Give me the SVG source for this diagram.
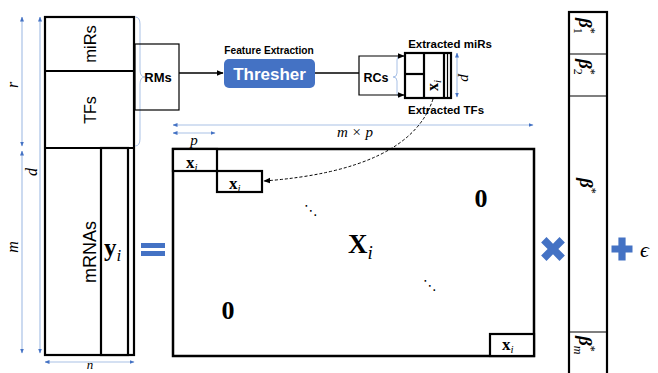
<svg xmlns="http://www.w3.org/2000/svg" width="658" height="373" viewBox="0 0 658 373">
<defs>
  <marker id="ab" viewBox="0 0 10 10" refX="9" refY="5" markerWidth="5" markerHeight="5" orient="auto-start-reverse" markerUnits="userSpaceOnUse">
    <path d="M0,1 L10,5 L0,9 z" fill="#4472c4"/>
  </marker>
  <marker id="ak" viewBox="0 0 10 10" refX="9" refY="5" markerWidth="7" markerHeight="7" orient="auto" markerUnits="userSpaceOnUse">
    <path d="M0,1 L10,5 L0,9 z" fill="#000"/>
  </marker>
  <style>
    .thick{fill:#fff;stroke:#000;stroke-width:2.2}
    .open{fill:none;stroke:#000;stroke-width:2.5}
    .thin{fill:none;stroke:#000;stroke-width:1.2}
    .dim{stroke:#a9c1e6;stroke-width:1.2;fill:none;marker-start:url(#ab);marker-end:url(#ab)}
    .brace{stroke:#a9c1e6;stroke-width:1;fill:none}
    .sans{font-family:"Liberation Sans",Arial,sans-serif;fill:#000}
    .b{font-weight:bold}
    .serif{font-family:"Liberation Serif","Times New Roman",serif;fill:#000}
    .it{font-style:italic}
    .op{fill:#4472c4}
  </style>
</defs>
<rect width="658" height="373" fill="#fff"/>

<!-- dimension arrows -->
<g id="dimensions">
  <line class="dim" x1="22" y1="17" x2="22" y2="146"/>
  <line class="dim" x1="22" y1="151" x2="22" y2="353"/>
  <line class="dim" x1="40" y1="17" x2="40" y2="353"/>
  <line class="dim" x1="45" y1="362" x2="134" y2="362"/>
  <line class="dim" x1="173" y1="125" x2="533" y2="125"/>
  <line class="dim" x1="173" y1="133" x2="215" y2="133"/>
  <line class="dim" x1="457" y1="53" x2="457" y2="97"/>
  <text class="serif it" font-size="16" text-anchor="middle" transform="translate(18,85) rotate(-90)">r</text>
  <text class="serif it" font-size="16" text-anchor="middle" transform="translate(37,172) rotate(-90)">d</text>
  <text class="serif it" font-size="16" text-anchor="middle" transform="translate(18,247) rotate(-90)">m</text>
  <text class="serif it" font-size="13" text-anchor="middle" x="90" y="369">n</text>
  <text class="serif it" font-size="15" text-anchor="middle" x="194" y="145">p</text>
  <text class="serif it" font-size="15" text-anchor="middle" x="355" y="137">m × p</text>
  <text class="serif it" font-size="15" text-anchor="middle" transform="translate(461,78) rotate(90)">p</text>
</g>

<!-- left data matrix -->
<g id="data-matrix">
  <rect class="thick" x="45" y="17" width="89" height="338"/>
  <line class="thick" x1="45" y1="71" x2="134" y2="71"/>
  <line class="thick" x1="45" y1="148" x2="134" y2="148"/>
  <rect class="thick" x="101" y="148" width="27" height="207"/>
  <text class="sans" font-size="16.5" text-anchor="middle" dominant-baseline="central" transform="translate(90,44) rotate(-90)">miRs</text>
  <text class="sans" font-size="16" text-anchor="middle" dominant-baseline="central" transform="translate(90,110) rotate(-90)">TFs</text>
  <text class="sans" font-size="18" text-anchor="middle" dominant-baseline="central" transform="translate(90,252) rotate(-90)">mRNAs</text>
  <text class="serif b" font-size="25" x="104" y="256">y<tspan class="it" font-weight="normal" font-size="17" dy="5">i</tspan></text>
  <path class="brace" d="M135,17 Q140,17 140,24 L140,70 Q140,77 145,77 Q140,77 140,84 L140,139 Q140,146 135,146"/>
</g>

<!-- RMs -->
<g id="rms">
  <rect class="thin" x="135" y="44" width="44" height="66"/>
  <text class="sans b" font-size="13" text-anchor="middle" x="158" y="82">RMs</text>
</g>

<!-- Thresher -->
<g id="thresher">
  <text class="sans b" font-size="10.2" text-anchor="middle" x="269" y="54">Feature Extraction</text>
  <rect x="224" y="59" width="91" height="29" rx="5" fill="#4472c4"/>
  <text class="sans b" font-size="17" text-anchor="middle" x="269.5" y="80" style="fill:#fff">Thresher</text>
</g>

<!-- RCs -->
<g id="rcs">
  <text class="sans b" font-size="12.5" text-anchor="middle" x="376" y="82">RCs</text>
  <path class="brace" d="M400,56 Q397,56 397,60 L397,73 Q397,77 393,77 Q397,77 397,81 L397,93 Q397,97 400,97"/>
</g>

<!-- extracted block -->
<g id="extracted">
  <text class="sans b" font-size="11.5" text-anchor="middle" x="450" y="48">Extracted miRs</text>
  <rect class="thick" x="405" y="53" width="46" height="45" stroke-width="2.5"/>
  <line class="thick" x1="424" y1="53" x2="424" y2="98"/>
  <line class="thick" x1="405" y1="74" x2="424" y2="74"/>
  <line class="thick" x1="444" y1="53" x2="444" y2="98"/>
  <line class="thin" x1="447.5" y1="53" x2="447.5" y2="98"/>
  <text class="serif b" font-size="16" transform="translate(438,91) rotate(-90)">x<tspan class="it" font-weight="normal" font-size="11" dy="3">i</tspan></text>
  <text class="sans b" font-size="11.5" text-anchor="middle" x="446" y="114">Extracted TFs</text>
</g>

<!-- block-diagonal matrix -->
<g id="block-matrix">
  <rect class="open" x="173" y="149" width="361" height="207"/>
  <rect class="thick" x="173" y="149" width="44" height="22"/>
  <rect class="thick" x="217" y="171" width="45" height="21"/>
  <rect class="thick" x="490" y="334" width="44" height="22"/>
  <text class="serif b" font-size="17" x="186" y="168">x<tspan class="it" font-weight="normal" font-size="11" dy="3">i</tspan></text>
  <text class="serif b" font-size="17" x="229" y="189">x<tspan class="it" font-weight="normal" font-size="11" dy="3">i</tspan></text>
  <text class="serif b" font-size="17" x="502" y="350">x<tspan class="it" font-weight="normal" font-size="11" dy="3">i</tspan></text>
  <text class="serif b" font-size="27" x="348" y="253">X<tspan class="it" font-weight="normal" font-size="19" dy="6">i</tspan></text>
  <text class="serif b" font-size="26" text-anchor="middle" x="481" y="207">0</text>
  <text class="serif b" font-size="26" text-anchor="middle" x="228" y="319">0</text>
  <text font-family="DejaVu Sans,sans-serif" font-size="14" text-anchor="middle" x="311" y="215">⋱</text>
  <text font-family="DejaVu Sans,sans-serif" font-size="14" text-anchor="middle" x="430" y="290">⋱</text>
</g>

<!-- operators -->
<g id="operators">
  <rect class="op" x="141" y="243" width="24" height="5"/>
  <rect class="op" x="141" y="251" width="24" height="5"/>
  <path class="op" transform="translate(553,249) rotate(45)" d="M-3.8,-13 H3.8 V-3.8 H13 V3.8 H3.8 V13 H-3.8 V3.8 H-13 V-3.8 H-3.8 Z"/>
  <path class="op" transform="translate(622,249)" d="M-3.6,-11.5 H3.6 V-3.6 H10.5 V3.6 H3.6 V11.5 H-3.6 V3.6 H-10.5 V-3.6 H-3.6 Z"/>
  <text class="serif it" font-size="22" x="640" y="257">ϵ</text>
</g>

<!-- beta vector -->
<g id="beta">
  <rect class="thick" x="569" y="12" width="38" height="365"/>
  <line class="thin" x1="569" y1="54" x2="607" y2="54"/>
  <line class="thin" x1="569" y1="96" x2="607" y2="96"/>
  <line class="thin" x1="569" y1="332" x2="607" y2="332"/>
  <text class="serif b it" font-size="19" transform="translate(579,18) rotate(90)">β<tspan font-weight="normal" font-style="normal" font-size="12" dy="-8">*</tspan><tspan font-weight="normal" font-style="normal" font-size="12" dx="-6" dy="13">1</tspan></text>
  <text class="serif b it" font-size="19" transform="translate(579,59) rotate(90)">β<tspan font-weight="normal" font-style="normal" font-size="12" dy="-8">*</tspan><tspan font-weight="normal" font-style="normal" font-size="12" dx="-6" dy="13">2</tspan></text>
  <text class="serif b it" font-size="19" transform="translate(580,178) rotate(90)">β<tspan font-weight="normal" font-style="normal" font-size="12" dy="-8">*</tspan></text>
  <text class="serif b it" font-size="19" transform="translate(579,336) rotate(90)">β<tspan font-weight="normal" font-style="normal" font-size="12" dy="-8">*</tspan><tspan font-weight="normal" font-size="12" dx="-6" dy="13">m</tspan></text>
</g>

<!-- connectors -->
<g id="connectors">
  <line x1="179" y1="73" x2="223" y2="73" stroke="#000" stroke-width="1.5" marker-end="url(#ak)"/>
  <line x1="315" y1="73" x2="359" y2="73" stroke="#000" stroke-width="1.5"/>
  <path d="M359,74 L359,56 L404,56" fill="none" stroke="#000" stroke-width="1.2" marker-end="url(#ak)"/>
  <path d="M359,74 L359,95 L404,95" fill="none" stroke="#000" stroke-width="1.2" marker-end="url(#ak)"/>
  <path d="M433,99 Q410,170 264,181" fill="none" stroke="#000" stroke-width="1" stroke-dasharray="3,2" marker-end="url(#ak)"/>
</g>
</svg>
